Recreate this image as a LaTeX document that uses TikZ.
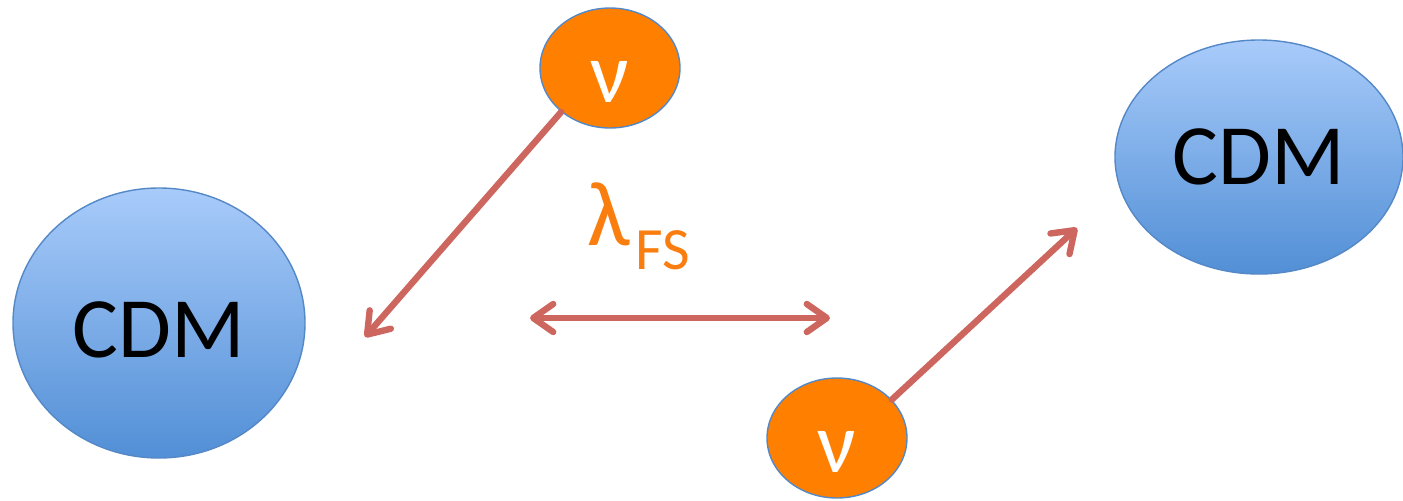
\documentclass[tikz,border=0pt]{standalone}
\usepackage{fontspec}
\setmainfont{Carlito}
\usetikzlibrary{arrows.meta,shapes.geometric}
\definecolor{cdmtop}{RGB}{168,203,250}
\definecolor{cdmbot}{RGB}{82,143,214}
\definecolor{cdmedge}{RGB}{84,136,198}
\definecolor{nuorange}{RGB}{255,128,0}
\definecolor{arrowred}{RGB}{205,102,94}
\definecolor{lamorange}{RGB}{250,125,15}
\newcommand{\lowerby}[2]{\raisebox{-#1}[\height][\depth]{#2}}
\begin{document}
\begin{tikzpicture}[x=0.5pt,y=-0.5pt,
  cdm/.style={ellipse, draw=cdmedge, line width=0.7pt, top color=cdmtop, bottom color=cdmbot,
    inner sep=0pt, font=\fontsize{43}{50}\selectfont},
  nu/.style={ellipse, draw=cdmedge, line width=0.7pt, fill=nuorange, text=white, inner sep=0pt,
    minimum width=70pt, minimum height=60pt, font=\fontsize{43}{50}\selectfont},
  flow/.style={draw=arrowred, line width=3.2pt, line cap=round, line join=round},
  tip/.tip={Straight Barb[length=10pt, width=14pt, line cap=round, line join=round]}]
\useasboundingbox (0,0) rectangle (1403,500);
\node[cdm, minimum width=146pt, minimum height=135pt] (cdmL) at (159,323) {\lowerby{3.5pt}{CDM}};
\node[cdm, minimum width=144pt, minimum height=117pt] (cdmR) at (1259,157) {CDM};
\node[nu] (nu1) at (610,68) {\lowerby{7pt}{ν}};
\node[nu] (nu2) at (837,438) {\lowerby{7pt}{ν}};
\node[anchor=base west, text=lamorange, inner sep=0pt, font=\fontsize{46}{50}\selectfont] (lam) at (587,245)
  {λ\kern3pt\raisebox{-12pt}{\fontsize{30}{36}\selectfont FS}};
\coordinate (endL) at (365,337);
\coordinate (endR) at (1077,228);
\coordinate (dL) at (530,318);
\coordinate (dR) at (830,318);
\draw[flow, -tip] (nu1.222) -- (endL);
\draw[flow, tip-tip] (dL) -- (dR);
\draw[flow, -tip] (nu2.35) -- (endR);
\end{tikzpicture}
\end{document}
